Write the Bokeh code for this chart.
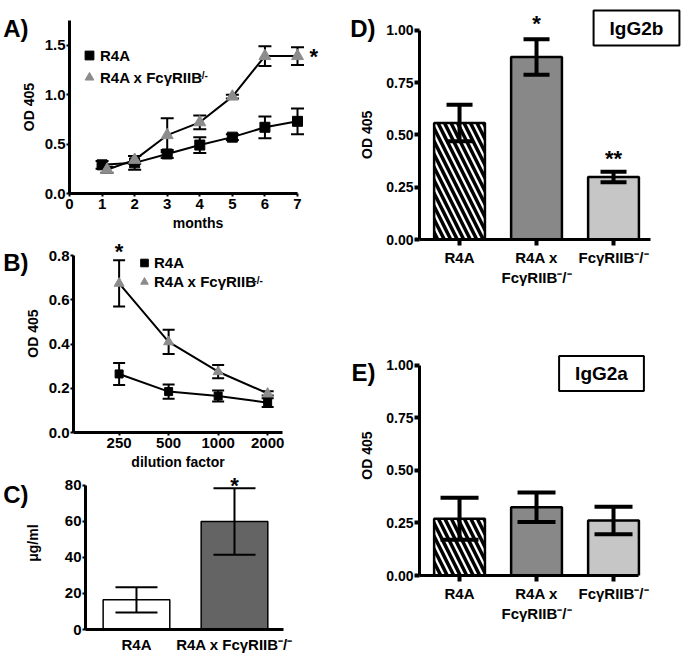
from bokeh.plotting import figure
from bokeh.models import (ColumnDataSource, Whisker, TeeHead, Label, Legend, LegendItem,
                          FixedTicker, NumeralTickFormatter, Range1d, LinearAxis)
from bokeh.layouts import row, column
from bokeh.embed import file_html
from bokeh.resources import INLINE

FONT = "Liberation Sans"

# ---------------- data ----------------
# Panel A: OD 405 over months
months = [1, 2, 3, 4, 5, 6, 7]
a_r4a = [0.29, 0.31, 0.40, 0.49, 0.57, 0.67, 0.73]
a_r4a_err = [0.04, 0.07, 0.04, 0.08, 0.03, 0.11, 0.13]
a_ko_months = [1.15, 2, 3, 4, 5, 6, 7]
a_ko = [0.24, 0.34, 0.59, 0.72, 0.98, 1.39, 1.39]
a_ko_err = [0.03, 0.04, 0.17, 0.07, 0.02, 0.10, 0.09]
a_ticks_x = [0, 1, 2, 3, 4, 5, 6, 7]
a_ticks_y = [0.0, 0.5, 1.0, 1.5]

# Panel B: OD 405 vs dilution factor
dilutions = [250, 500, 1000, 2000]
b_r4a = [0.265, 0.185, 0.165, 0.135]
b_r4a_err = [0.05, 0.032, 0.025, 0.02]
b_ko = [0.675, 0.41, 0.275, 0.177]
b_ko_err = [0.105, 0.055, 0.03, 0.01]
b_ticks_y = [0.0, 0.2, 0.4, 0.6, 0.8]

# Panel C: ug/ml
c_groups = ["R4A", "R4A x FcγRIIB⁻/⁻"]
c_vals = [16.5, 60.0]
c_err = [7.0, 18.5]
c_colors = ["white", "#646464"]
c_ticks_y = [0, 20, 40, 60, 80]

# Panels D (IgG2b) and E (IgG2a)
de_groups = ["R4A", "R4A x\nFcγRIIB⁻/⁻", "FcγRIIB⁻/⁻"]
de_colors = ["white", "#888888", "#c6c6c6"]
de_hatch = ["\\", " ", " "]
d_vals = [0.557, 0.872, 0.299]
d_err = [0.087, 0.085, 0.025]
e_vals = [0.27, 0.325, 0.262]
e_err = [0.10, 0.07, 0.065]
de_ticks_y = [0.0, 0.25, 0.5, 0.75, 1.0]


# ---------------- helpers ----------------
def base_fig(width, height, x_range, y_range, bl, br, bt, bb, x_axis_type="linear"):
    p = figure(width=width, height=height, x_range=x_range, y_range=y_range,
               x_axis_type=x_axis_type, output_backend="svg", toolbar_location=None,
               min_border_left=bl, min_border_right=br, min_border_top=bt, min_border_bottom=bb)
    p.outline_line_color = None
    p.xgrid.visible = False
    p.ygrid.visible = False
    p.background_fill_color = "white"
    p.border_fill_color = "white"
    return p


def style_axes(p, tick_size, label_size, axis_w=3, tick_w=2, tick_out=4, standoff=3, lab_standoff=5):
    for ax in p.axis:
        ax.axis_line_width = axis_w
        ax.axis_line_color = "black"
        ax.major_tick_line_width = tick_w
        ax.major_tick_line_color = "black"
        ax.major_tick_in = 0
        ax.major_tick_out = tick_out
        ax.minor_tick_line_color = None
        ax.major_label_standoff = standoff
        ax.major_label_text_font = FONT
        ax.major_label_text_font_style = "bold"
        ax.major_label_text_font_size = tick_size
        ax.major_label_text_color = "black"
        ax.axis_label_text_font = FONT
        ax.axis_label_text_font_style = "bold"
        ax.axis_label_text_font_size = label_size
        ax.axis_label_text_color = "black"
        ax.axis_label_standoff = lab_standoff


def text_axis(p, text, ypos, standoff, size, orientation="horizontal"):
    """An extra left axis without line or ticks that carries a single text at ypos."""
    ax = LinearAxis(ticker=FixedTicker(ticks=[ypos]), major_label_overrides={ypos: text},
                    axis_line_color=None, major_tick_line_color=None, minor_tick_line_color=None,
                    major_tick_out=0, major_tick_in=0, major_label_standoff=standoff,
                    major_label_orientation=orientation,
                    major_label_text_font=FONT, major_label_text_font_style="bold",
                    major_label_text_font_size=size, major_label_text_color="black")
    p.add_layout(ax, "left")


def txt(p, text, x, y, size, units="data", align="center", baseline="middle",
        xo=0, yo=0, **kw):
    lab = Label(x=x, y=y, x_units=units, y_units=units, text=text, x_offset=xo, y_offset=yo,
                text_font=FONT, text_font_style="bold", text_font_size=size,
                text_align=align, text_baseline=baseline, text_color="black", **kw)
    p.add_layout(lab)
    return lab


def err_src(xs, vals, errs):
    return ColumnDataSource(dict(x=xs, y=vals,
                                 lo=[v - e for v, e in zip(vals, errs)],
                                 hi=[v + e for v, e in zip(vals, errs)]))


def whisker(p, src, lw, cap, level="underlay"):
    w = Whisker(source=src, base="x", upper="hi", lower="lo", dimension="height",
                line_color="black", line_width=lw, level=level,
                upper_head=TeeHead(size=cap, line_width=lw, line_color="black"),
                lower_head=TeeHead(size=cap, line_width=lw, line_color="black"))
    p.add_layout(w)


def legend(p, items, loc, gw, gh, standoff, size):
    leg = Legend(items=items, location=loc, padding=0, spacing=0, margin=0,
                 glyph_width=gw, glyph_height=gh, label_height=gh, label_standoff=standoff,
                 border_line_color=None, background_fill_alpha=0,
                 label_text_font=FONT, label_text_font_style="bold",
                 label_text_font_size=size, label_text_color="black")
    p.add_layout(leg)


TRI = "#8c8c8c"
STAR_YO = -5

# ---------------- Panel A ----------------
pA = base_fig(340, 233, Range1d(0, 7.89), Range1d(0, 1.75), 68, 14, 20, 40)
style_axes(pA, "15px", "14px", tick_out=3, standoff=1, lab_standoff=5)
pA.xaxis.major_label_standoff = 2
pA.xaxis.axis_label_standoff = 3
pA.xaxis.bounds = (0, 7)
pA.xaxis.ticker = FixedTicker(ticks=a_ticks_x)
pA.yaxis.ticker = FixedTicker(ticks=a_ticks_y)
pA.yaxis.formatter = NumeralTickFormatter(format="0.0")
pA.xaxis.axis_label = "months"
pA.yaxis.axis_label = "OD 405"
text_axis(pA, "A)", 1.67, -11, "24px")

sA1 = err_src(months, a_r4a, a_r4a_err)
sA2 = err_src(a_ko_months, a_ko, a_ko_err)
whisker(pA, sA1, 2, 13)
whisker(pA, sA2, 2, 13)
pA.line("x", "y", source=sA1, line_color="black", line_width=2)
pA.line("x", "y", source=sA2, line_color="black", line_width=2)
rA1 = pA.scatter("x", "y", source=sA1, marker="square", size=10, fill_color="black", line_color="black")
rA2 = pA.scatter("x", "y", source=sA2, marker="triangle", size=12, fill_color=TRI, line_color=TRI)
legend(pA, [LegendItem(label="R4A", renderers=[rA1]),
            LegendItem(label="R4A x FcγRIIB", renderers=[rA2])], (9, 105), 22, 22, -4, "15px")
txt(pA, "-/-", 129, 118, "10px", units="screen", align="left")
txt(pA, "*", 7.5, 1.44, "22px", yo=STAR_YO)

# ---------------- Panel B ----------------
pB = base_fig(340, 241, Range1d(132, 2462), Range1d(0, 0.896), 71, 58, 1, 42, x_axis_type="log")
style_axes(pB, "15px", "14px", tick_out=3, standoff=1, lab_standoff=5)
pB.xaxis.major_label_standoff = 2
pB.xaxis.axis_label_standoff = 3
pB.yaxis.bounds = (0, 0.8)
pB.xaxis.ticker = FixedTicker(ticks=dilutions)
pB.xaxis.formatter = NumeralTickFormatter(format="0")
pB.yaxis.ticker = FixedTicker(ticks=b_ticks_y)
pB.yaxis.formatter = NumeralTickFormatter(format="0.0")
pB.xaxis.axis_label = "dilution factor"
pB.yaxis.axis_label = "OD 405"
text_axis(pB, "B)", 0.77, -7, "24px")

sB1 = err_src(dilutions, b_r4a, b_r4a_err)
sB2 = err_src(dilutions, b_ko, b_ko_err)
whisker(pB, sB1, 2, 12)
whisker(pB, sB2, 2, 12)
pB.line("x", "y", source=sB1, line_color="black", line_width=2)
pB.line("x", "y", source=sB2, line_color="black", line_width=2)
rB1 = pB.scatter("x", "y", source=sB1, marker="square", size=8, fill_color="black", line_color="black")
rB2 = pB.scatter("x", "y", source=sB2, marker="triangle", size=10, fill_color=TRI, line_color=TRI)
legend(pB, [LegendItem(label="R4A", renderers=[rB1]),
            LegendItem(label="R4A x FcγRIIB", renderers=[rB2])], (61, 141), 20, 19, -4, "15px")
txt(pB, "-/-", 180, 152, "10px", units="screen", align="left")
txt(pB, "*", dilutions[0], 0.84, "22px", yo=STAR_YO)

# ---------------- Panel C ----------------
c_x = list(range(1, len(c_groups) + 1))
pC = base_fig(340, 181, Range1d(0.48, 2.5), Range1d(0, 86.07), 81, 57, 0, 25)
style_axes(pC, "15px", "14px", tick_out=3, standoff=1, lab_standoff=6)
pC.xaxis.major_label_standoff = 3
pC.xaxis.major_tick_line_color = None
pC.yaxis.bounds = (0, 80)
pC.xaxis.ticker = FixedTicker(ticks=c_x)
pC.xaxis.major_label_overrides = {x: g for x, g in zip(c_x, c_groups)}
pC.yaxis.ticker = FixedTicker(ticks=c_ticks_y)
text_axis(pC, "μg/ml", 48, 20, "14px", orientation="parallel")
text_axis(pC, "C)", 75, -6, "24px")
sC = err_src(c_x, c_vals, c_err)
sC.data["color"] = c_colors
pC.vbar(x="x", top="y", width=0.68, source=sC, fill_color="color", line_color="black", line_width=1.5)
whisker(pC, sC, 2, 42, level="overlay")
txt(pC, "*", c_x[1], 82.8, "22px", yo=STAR_YO)


# ---------------- Panels D / E ----------------
def bar_panel(vals, errs, height, y_end, bt, bb, cap, box_text, box_xy, letter, letter_y,
              label_y, bounds_end):
    xs = list(range(1, len(de_groups) + 1))
    p = base_fig(348, height, Range1d(0.48, 3.896), Range1d(0, y_end), 79, 6, bt, bb)
    style_axes(p, "14px", "14px", tick_w=4, tick_out=5, standoff=1, lab_standoff=8)
    p.xaxis.major_tick_out = 6
    p.xaxis.major_label_standoff = 3
    p.xaxis.major_label_text_font_size = "15px"
    p.xaxis.bounds = (0.48, bounds_end)
    p.yaxis.bounds = (0, 1.0)
    p.xaxis.ticker = FixedTicker(ticks=xs)
    p.xaxis.major_label_overrides = {x: g for x, g in zip(xs, de_groups)}
    p.yaxis.ticker = FixedTicker(ticks=de_ticks_y)
    p.yaxis.formatter = NumeralTickFormatter(format="0.00")
    text_axis(p, "OD 405", label_y, 8, "14px", orientation="parallel")
    text_axis(p, letter, letter_y, -19, "24px")
    s = err_src(xs, vals, errs)
    s.data["color"] = de_colors
    s.data["hatch"] = de_hatch
    p.vbar(x="x", top="y", width=0.66, source=s, fill_color="color", line_color="black",
           line_width=2.5, hatch_pattern="hatch", hatch_color="black", hatch_weight=3.5,
           hatch_scale=13)
    whisker(p, s, 4, cap, level="overlay")
    txt(p, box_text, box_xy[0], box_xy[1], "19px", units="screen",
        border_line_color="black", border_line_width=2, background_fill_color="white",
        padding=dict(left=16, right=16, top=7, bottom=7))
    return p, xs


pD, dx = bar_panel(d_vals, d_err, 330, 1.1228, 4, 91, 26, "IgG2b", (217, 211.5), "D)", 1.008,
                   0.5, 3.48)
txt(pD, "*", dx[1], 1.057, "22px", yo=STAR_YO)
txt(pD, "**", dx[2], 0.41, "22px", yo=STAR_YO)

pE, ex = bar_panel(e_vals, e_err, 328, 1.0714, 20, 83, 38, "IgG2a", (182, 202), "E)", 0.969,
                   0.571, 3.32)

layout = row(column(row(pA), row(pB), row(pC)), column(row(pD), row(pE)))

with open("out.html", "w") as f:
    f.write(file_html(layout, INLINE, "figure"))
